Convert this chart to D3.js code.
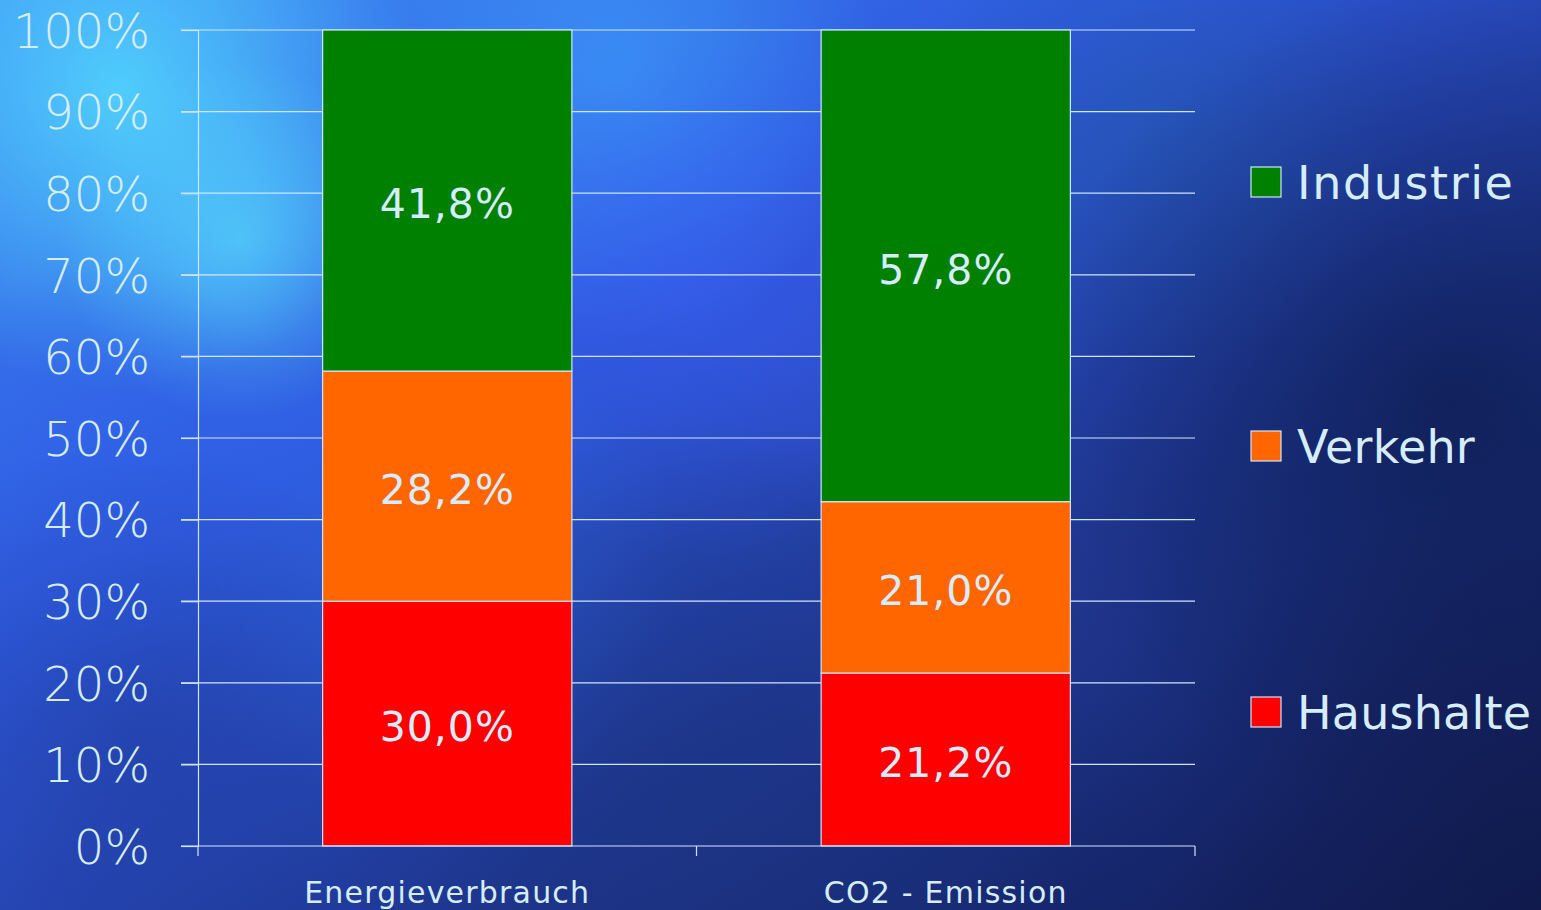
<!DOCTYPE html>
<html><head><meta charset="utf-8">
<script src="https://cdn.jsdelivr.net/npm/d3@7"></script>
<style>
html,body{margin:0;padding:0;background:#1a2c7a;overflow:hidden}
svg{display:block}
text{font-family:"DejaVu Sans",sans-serif;fill:#d6ecff}
</style></head>
<body>
<svg id="chart" width="1541" height="910"></svg>
<script>
const categories = ["Energieverbrauch", "CO2 - Emission"];
const seriesNames = ["Haushalte", "Verkehr", "Industrie"];
const haushalte = [30.0, 21.2];
const verkehr = [28.2, 21.0];
const industrie = [41.8, 57.8];
const seriesColors = ["#ff0000", "#ff6600", "#008000"];
const yTicks = [0,10,20,30,40,50,60,70,80,90,100];
const labelFmt = v => v.toFixed(1).replace(".", ",") + "%";

const svg = d3.select("#chart");
const W = 1541, H = 910;
const defs = svg.append("defs");

// background
const lg = defs.append("linearGradient").attr("id","bg").attr("x1","0").attr("y1","0").attr("x2","1").attr("y2","1");
lg.append("stop").attr("offset","0").attr("stop-color","#3d8cf5");
lg.append("stop").attr("offset","0.35").attr("stop-color","#2f5ae0");
lg.append("stop").attr("offset","0.65").attr("stop-color","#1e3690");
lg.append("stop").attr("offset","1").attr("stop-color","#101a50");
svg.append("rect").attr("width",W).attr("height",H).attr("fill","url(#bg)");
const blobs = [
  [120,90,300,"#55e0ff",0.8],
  [240,240,180,"#5ae4ff",0.6],
  [620,80,260,"#3ea8ff",0.55],
  [700,300,260,"#3a5cf5",0.5],
  [900,330,200,"#3a58e8",0.4],
  [420,560,260,"#2f6ee8",0.45],
  [100,480,220,"#2f60e8",0.5],
  [140,740,300,"#1f3a9a",0.5],
  [700,800,380,"#1c3580",0.55],
  [1150,120,260,"#2060a0",0.35],
  [1450,400,420,"#0a1640",0.6],
  [1500,850,350,"#101a4a",0.6],
  [980,620,220,"#2a3f9a",0.4]
];
blobs.forEach((b,i)=>{
  const rg = defs.append("radialGradient").attr("id","b"+i);
  rg.append("stop").attr("offset","0").attr("stop-color",b[3]).attr("stop-opacity",b[4]);
  rg.append("stop").attr("offset","1").attr("stop-color",b[3]).attr("stop-opacity",0);
  svg.append("circle").attr("cx",b[0]).attr("cy",b[1]).attr("r",b[2]).attr("fill","url(#b"+i+")");
});

const plot = {left:198, right:1195, top:30, bottom:846};
const x = d3.scaleBand().domain(categories).range([plot.left, plot.right]).paddingInner(0.5).paddingOuter(0.25);
const y = d3.scaleLinear().domain([0,100]).range([plot.bottom, plot.top]);
const lineCol = "#cfe4ff";

// gridlines
svg.append("g").selectAll("line").data(yTicks.slice(1)).join("line")
  .attr("x1",181).attr("x2",plot.right).attr("y1",d=>y(d)).attr("y2",d=>y(d))
  .attr("stroke",lineCol).attr("stroke-width",1.2);

// y axis
const yAxis = d3.axisLeft(y).tickValues(yTicks).tickSize(17).tickFormat(d=>d+"%");
const gy = svg.append("g").attr("transform",`translate(${plot.left},0)`).call(yAxis);
gy.select(".domain").attr("stroke",lineCol).attr("stroke-width",1.2);
gy.selectAll(".tick line").attr("stroke",lineCol).attr("stroke-width",1.2);
gy.selectAll(".tick text").attr("x",-48).attr("dy","0.36em").attr("font-size",48).attr("font-weight",200)
  .style("font-family","'DejaVu Sans',sans-serif").attr("fill","#d6ecff");

// stack
const rows = categories.map((c,i)=>({cat:c, Haushalte:haushalte[i], Verkehr:verkehr[i], Industrie:industrie[i]}));
const stack = d3.stack().keys(seriesNames)(rows);
const gBars = svg.append("g");
stack.forEach((s,si)=>{
  gBars.selectAll(null).data(s).join("rect")
    .attr("x",d=>x(d.data.cat)).attr("width",x.bandwidth())
    .attr("y",d=>y(d[1])).attr("height",d=>y(d[0])-y(d[1]))
    .attr("fill",seriesColors[si]).attr("stroke",lineCol).attr("stroke-width",1.2);
  gBars.selectAll(null).data(s).join("text")
    .attr("x",d=>x(d.data.cat)+x.bandwidth()/2).attr("y",d=>(y(d[0])+y(d[1]))/2+3)
    .attr("text-anchor","middle").attr("dy","0.36em").attr("font-size",41).attr("letter-spacing",1)
    .text(d=>labelFmt(d[1]-d[0]));
});

// x axis
const xEdges = [plot.left, ...categories.map(c=>x(c)+x.bandwidth()/2 + x.step()/2)];
const xAx = svg.append("g");
xAx.append("line").attr("x1",181).attr("x2",plot.right).attr("y1",plot.bottom).attr("y2",plot.bottom).attr("stroke",lineCol).attr("stroke-width",1.2);
xAx.selectAll(".xt").data(xEdges).join("line").attr("class","xt")
  .attr("x1",d=>d).attr("x2",d=>d).attr("y1",plot.bottom).attr("y2",plot.bottom+10).attr("stroke",lineCol).attr("stroke-width",1.2);
xAx.selectAll("text").data(categories).join("text")
  .attr("x",d=>x(d)+x.bandwidth()/2).attr("y",903).attr("text-anchor","middle")
  .attr("font-size",30).attr("letter-spacing",1.2).text(d=>d);

// legend
const legendY = {Industrie:182, Verkehr:446, Haushalte:712};
const legendSpacing = {Industrie:1.6, Verkehr:0.2, Haushalte:0.2};
const lgG = svg.append("g");
seriesNames.forEach((n,i)=>{
  const cy = legendY[n];
  lgG.append("rect").attr("x",1251).attr("y",cy-15).attr("width",30).attr("height",30)
    .attr("fill",seriesColors[i]).attr("stroke",lineCol).attr("stroke-width",1.2);
  lgG.append("text").attr("x",1297).attr("y",cy).attr("dy","0.36em").attr("font-size",46)
    .attr("letter-spacing",legendSpacing[n]).text(n);
});
</script>
</body></html>
